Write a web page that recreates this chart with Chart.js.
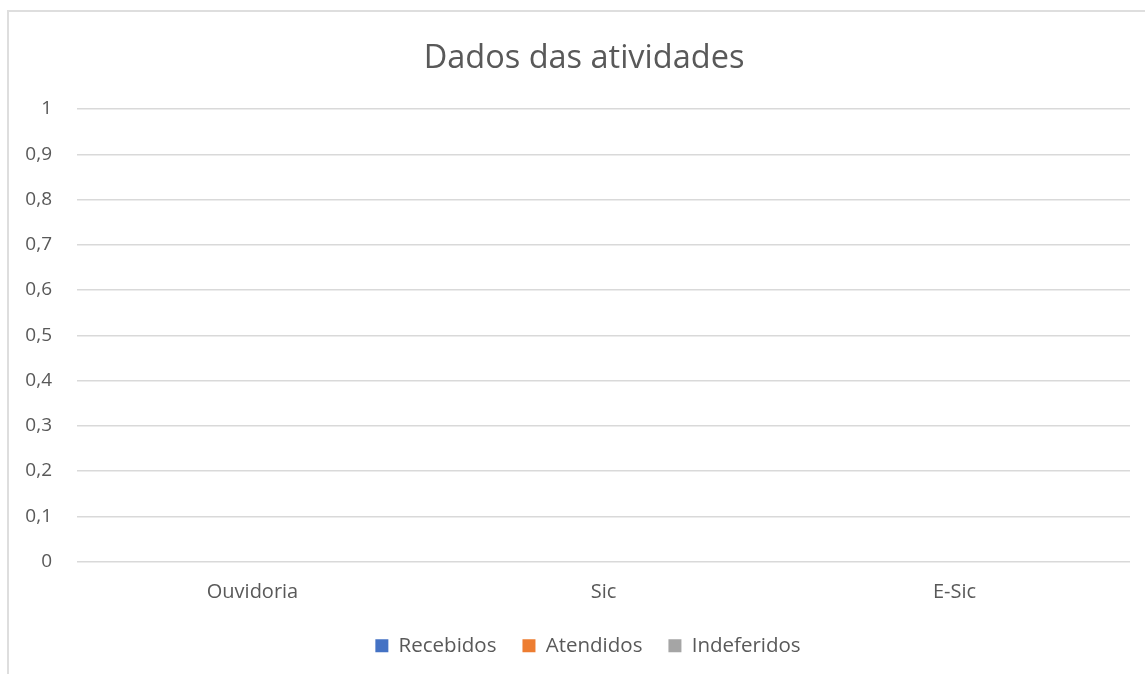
<!DOCTYPE html>
<html>
<head>
<meta charset="utf-8">
<script src="https://cdn.jsdelivr.net/npm/chart.js@4/dist/chart.umd.min.js"></script>
<style>
  html, body { margin: 0; padding: 0; background: #fff; overflow: hidden; }
  #frame { position: absolute; left: 7px; top: 10px; width: 1200px; height: 700px;
           border: 2px solid #dedede; box-sizing: border-box; }
  #box { position: absolute; left: 0; top: 0; width: 1145px; height: 674px; }
</style>
</head>
<body>
<div id="frame"></div>
<div id="box"><canvas id="chartAtividades"></canvas></div>
<script>
// title of the chart
const chartTitle = "Dados das atividades";

// categories on the x axis
const categorias = ["Ouvidoria", "Sic", "E-Sic"];

// series values (all empty in the source sheet)
const recebidos = [0, 0, 0];
const atendidos = [0, 0, 0];
const indeferidos = [0, 0, 0];

// y axis range
const yMin = 0;
const yMax = 1;
const yStep = 0.1;

const textColor = '#595959';
const fontFamily = "'Open Sans', 'Noto Sans', sans-serif";

// return dataset object {label, data, backgroundColor}
function createSerie (label, data, color) {
    return { label: label, data: data, backgroundColor: color, borderWidth: 0 }; }

// 0.1 -> "0,1"
function formatTick (value) {
    return String(Math.round(value * 10) / 10).replace('.', ','); }

// the excel chart is a bit wider than the picture, so title & legend sit right of the middle
const shiftBlocks = {
    id: 'shiftBlocks',
    afterLayout (chart) {
        chart.titleBlock.left += 19; chart.titleBlock.right += 19;
        chart.legend.left += 23; chart.legend.right += 23; } };

const chartAtividades = new Chart("chartAtividades", {
    type: 'bar',
    data: {
        labels: categorias,
        datasets: [
            createSerie("Recebidos", recebidos, '#4472c4'),
            createSerie("Atendidos", atendidos, '#ed7d31'),
            createSerie("Indeferidos", indeferidos, '#a5a5a5') ]
    },
    plugins: [shiftBlocks],
    options: {
        responsive: true,
        maintainAspectRatio: false,
        animation: false,
        layout: { padding: { left: 0, right: 15, top: 0, bottom: 8 } },
        plugins: {
            title: { display: true, text: chartTitle, color: textColor,
                font: { family: fontFamily, size: 32.5, weight: 'normal' },
                padding: { top: 39.5, bottom: 30.5 } },
            legend: { position: 'bottom',
                labels: { color: textColor, boxWidth: 13, boxHeight: 13, padding: 26,
                    font: { family: fontFamily, size: 20.5 } } },
            tooltip: { enabled: false }
        },
        scales: {
            x: {
                grid: { display: false, drawTicks: false },
                border: { display: false },
                ticks: { color: textColor, padding: 19, font: { family: fontFamily, size: 20 } },
                afterFit: (scale) => { scale.height = 48; }
            },
            y: {
                min: yMin, max: yMax,
                grid: { color: '#d9d9d9', lineWidth: 1.5, drawTicks: false },
                border: { display: false },
                ticks: { stepSize: yStep, color: textColor, padding: 25,
                    font: { family: fontFamily, size: 19 }, callback: formatTick },
                afterFit: (scale) => { scale.width = 77; }
            }
        }
    }
});
</script>
</body>
</html>
